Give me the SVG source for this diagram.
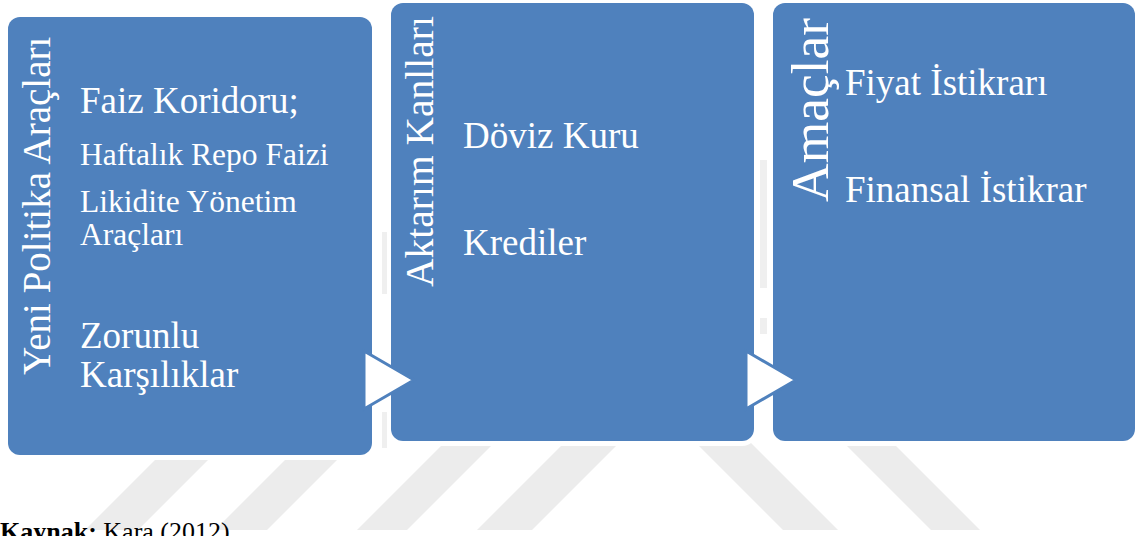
<svg xmlns="http://www.w3.org/2000/svg" width="1136" height="536" viewBox="0 0 1136 536">
  <style>
    .wm { fill: #ececec; }
    .wm2 { fill: #efefef; }
    .halo { fill: #ffffff; }
    .box { fill: #4f81bd; }
    .t { font-family: "Liberation Serif", "Times New Roman", serif; fill: #ffffff; }
    .arrow { fill: #ffffff; stroke: #4f81bd; stroke-width: 3; stroke-linejoin: miter; }
    .src { font-family: "Liberation Serif", "Times New Roman", serif; fill: #000000; font-size: 26px; }
  </style>
  <rect width="1136" height="536" fill="#ffffff"/>
  <g id="watermark">
    <polygon class="wm" points="174,441 227,441 138,530 85,530"/>
    <polygon class="wm" points="304,441 356,441 267,530 215,530"/>
    <polygon class="wm" points="446,441 496,441 407,530 357,530"/>
    <polygon class="wm" points="566,441 621,441 532,530 477,530"/>
    <polygon class="wm" points="694,441 749,441 838,530 783,530"/>
    <polygon class="wm" points="842,441 891,441 980,530 931,530"/>
    <rect class="wm2" x="382" y="232" width="5" height="62"/>
    <rect class="wm2" x="382" y="412" width="5" height="36"/>
    <rect class="wm2" x="760" y="160" width="7" height="128"/>
    <rect class="wm2" x="760" y="318" width="7" height="16"/>
  </g>
  <g id="halos">
    <rect class="halo" x="3" y="12" width="374" height="448" rx="16"/>
    <rect class="halo" x="387" y="-2" width="371" height="448" rx="16"/>
    <rect class="halo" x="769" y="-2" width="371" height="448" rx="16"/>
  </g>
  <g id="node-araclar">
    <rect class="box" x="8" y="17" width="364" height="438" rx="12"/>
    <text class="t" font-size="39" transform="translate(50,375) rotate(-90)">Yeni Politika Araçları</text>
    <text class="t" font-size="37" x="80" y="113">Faiz Koridoru;</text>
    <text class="t" font-size="31.5" x="80" y="165">Haftalık Repo Faizi</text>
    <text class="t" font-size="31.5" x="80" y="212">Likidite Yönetim</text>
    <text class="t" font-size="31.5" x="80" y="245">Araçları</text>
    <text class="t" font-size="37" x="80" y="348">Zorunlu</text>
    <text class="t" font-size="37" x="80" y="387">Karşılıklar</text>
  </g>
  <g id="node-aktarim">
    <rect class="box" x="391" y="3" width="363" height="438" rx="12"/>
    <text class="t" font-size="39.5" transform="translate(433,287) rotate(-90)">Aktarım Kanlları</text>
    <text class="t" font-size="37" x="463" y="148">Döviz Kuru</text>
    <text class="t" font-size="37" x="463" y="255">Krediler</text>
  </g>
  <g id="node-amaclar">
    <rect class="box" x="773" y="3" width="362" height="438" rx="12"/>
    <text class="t" font-size="53.5" transform="translate(828,202) rotate(-90)">Amaçlar</text>
    <text class="t" font-size="37" x="845" y="95">Fiyat İstikrarı</text>
    <text class="t" font-size="37" x="845" y="202">Finansal İstikrar</text>
  </g>
  <g id="connectors">
    <polygon class="arrow" points="364,351 414,380 364,409"/>
    <polygon class="arrow" points="746,351 796,380 746,409"/>
  </g>
  <text class="src" x="0" y="540"><tspan font-weight="bold">Kaynak:</tspan> Kara (2012)</text>
</svg>
